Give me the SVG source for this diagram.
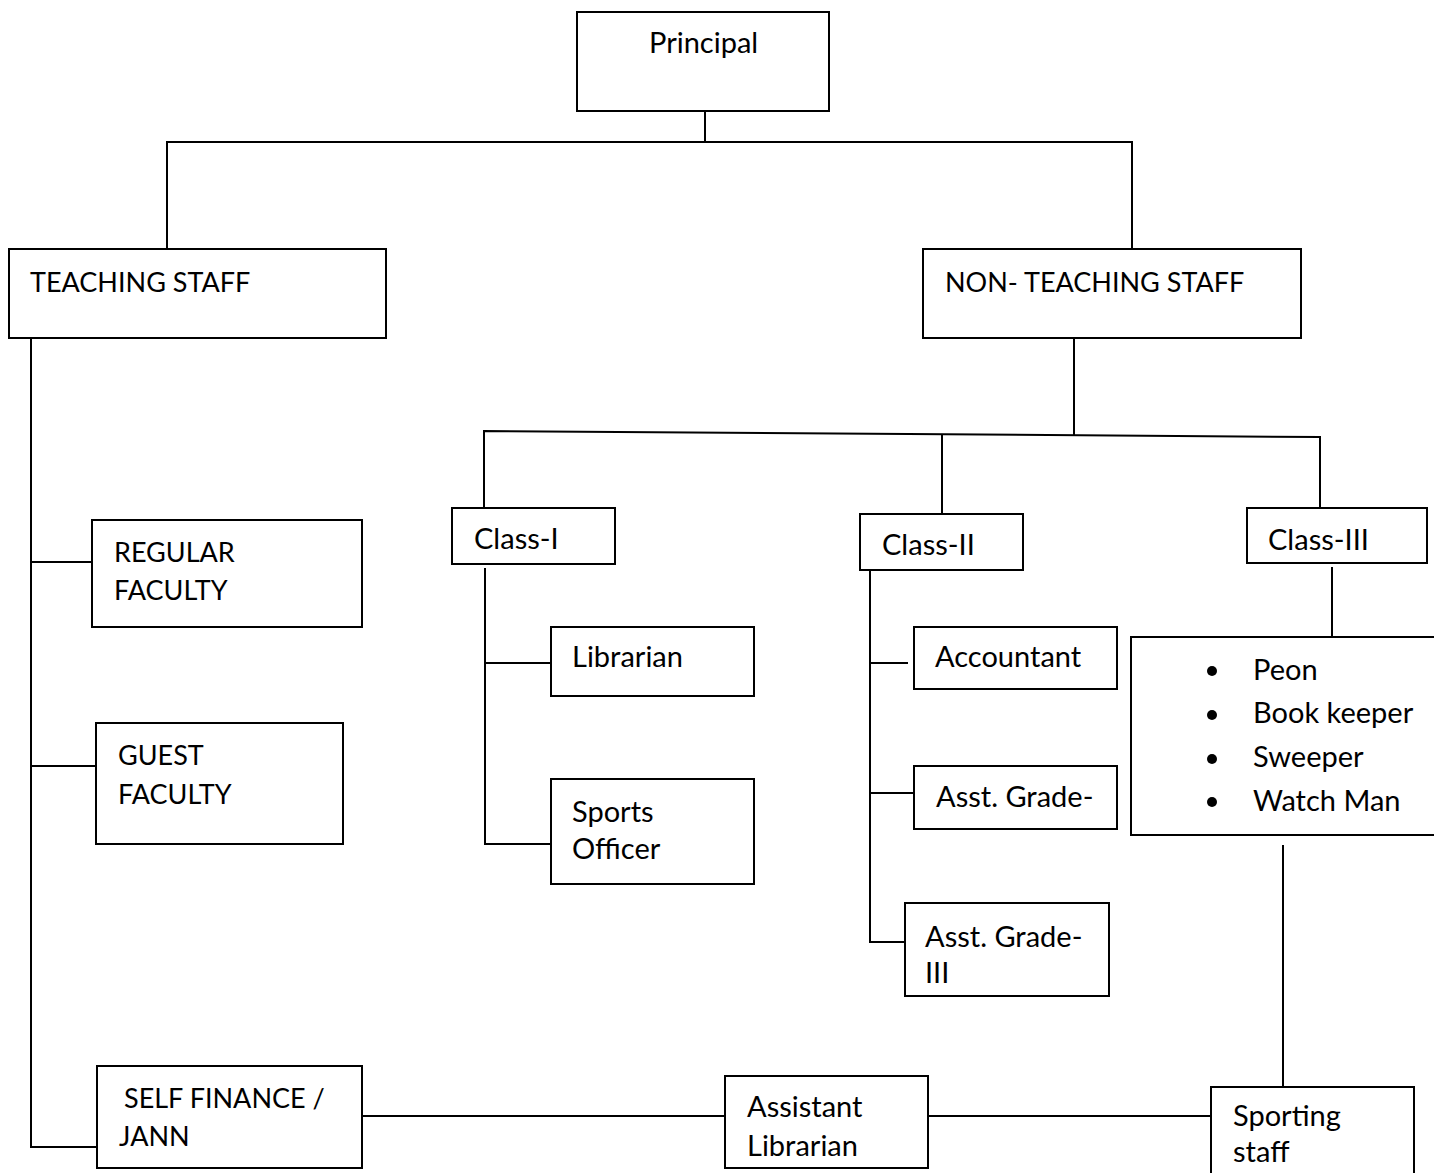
<svg xmlns="http://www.w3.org/2000/svg" width="1434" height="1173" viewBox="0 0 1434 1173">
<style>
  .box { fill: #ffffff; stroke: #000000; stroke-width: 2; }
  .ln { fill: none; stroke: #000000; stroke-width: 2; }
  text { font-family: Lato, "Open Sans", "Liberation Sans", sans-serif; font-size: 29px; fill: #000000; }
  text.caps { font-size: 27px; }
  .dot { fill: #000000; }
</style>
<rect width="1434" height="1173" fill="#ffffff"/>
<g id="connectors">
  <polyline class="ln" points="705,111 705,142"/>
  <polyline class="ln" points="167,249 167,142 1132,142 1132,249"/>
  <polyline class="ln" points="31,338 31,1147 97,1147"/>
  <line class="ln" x1="31" y1="562" x2="92" y2="562"/>
  <line class="ln" x1="31" y1="766" x2="96" y2="766"/>
  <line class="ln" x1="1074" y1="338" x2="1074" y2="435"/>
  <polyline class="ln" points="484,508 484,431 1320,437 1320,508"/>
  <line class="ln" x1="942" y1="434" x2="942" y2="514"/>
  <polyline class="ln" points="485,568 485,844 551,844"/>
  <line class="ln" x1="485" y1="663" x2="551" y2="663"/>
  <polyline class="ln" points="870,570 870,942 905,942"/>
  <line class="ln" x1="870" y1="663" x2="908" y2="663"/>
  <line class="ln" x1="870" y1="793" x2="914" y2="793"/>
  <line class="ln" x1="1332" y1="567" x2="1332" y2="637"/>
  <line class="ln" x1="1283" y1="845" x2="1283" y2="1087"/>
  <line class="ln" x1="362" y1="1116" x2="725" y2="1116"/>
  <line class="ln" x1="928" y1="1116" x2="1211" y2="1116"/>
</g>
<g id="principal">
  <rect class="box" x="577" y="12" width="252" height="99"/>
  <text x="649" y="53">Principal</text>
</g>
<g id="teaching-staff">
  <rect class="box" x="9" y="249" width="377" height="89"/>
  <text class="caps" x="30" y="292">TEACHING STAFF</text>
</g>
<g id="non-teaching-staff">
  <rect class="box" x="923" y="249" width="378" height="89"/>
  <text class="caps" x="945" y="292">NON- TEACHING STAFF</text>
</g>
<g id="regular-faculty">
  <rect class="box" x="92" y="520" width="270" height="107"/>
  <text class="caps" x="114" y="562">REGULAR</text>
  <text class="caps" x="114" y="600">FACULTY</text>
</g>
<g id="guest-faculty">
  <rect class="box" x="96" y="723" width="247" height="121"/>
  <text class="caps" x="118" y="765">GUEST</text>
  <text class="caps" x="118" y="804">FACULTY</text>
</g>
<g id="self-finance">
  <rect class="box" x="97" y="1066" width="265" height="102"/>
  <text class="caps" x="124" y="1108">SELF FINANCE /</text>
  <text class="caps" x="119" y="1146">JANN</text>
</g>
<g id="class-i">
  <rect class="box" x="452" y="508" width="163" height="56"/>
  <text x="474" y="549">Class-I</text>
</g>
<g id="class-ii">
  <rect class="box" x="860" y="514" width="163" height="56"/>
  <text x="882" y="555">Class-II</text>
</g>
<g id="class-iii">
  <rect class="box" x="1247" y="508" width="180" height="55"/>
  <text x="1268" y="550">Class-III</text>
</g>
<g id="librarian">
  <rect class="box" x="551" y="627" width="203" height="69"/>
  <text x="572" y="667">Librarian</text>
</g>
<g id="sports-officer">
  <rect class="box" x="551" y="779" width="203" height="105"/>
  <text x="572" y="822">Sports</text>
  <text x="572" y="859">Officer</text>
</g>
<g id="accountant">
  <rect class="box" x="914" y="627" width="203" height="62"/>
  <text x="935" y="667">Accountant</text>
</g>
<g id="asst-grade">
  <rect class="box" x="914" y="766" width="203" height="63"/>
  <text x="936" y="807">Asst. Grade-</text>
</g>
<g id="asst-grade-iii">
  <rect class="box" x="905" y="903" width="204" height="93"/>
  <text x="925" y="947">Asst. Grade-</text>
  <text x="925" y="983">III</text>
</g>
<g id="class-iii-list">
  <rect class="box" x="1131" y="637" width="310" height="198"/>
  <circle class="dot" cx="1212" cy="671" r="5"/>
  <circle class="dot" cx="1212" cy="715" r="5"/>
  <circle class="dot" cx="1212" cy="759" r="5"/>
  <circle class="dot" cx="1212" cy="802" r="5"/>
  <text x="1253" y="680">Peon</text>
  <text x="1253" y="723">Book keeper</text>
  <text x="1253" y="767">Sweeper</text>
  <text x="1253" y="811">Watch Man</text>
</g>
<g id="assistant-librarian">
  <rect class="box" x="725" y="1076" width="203" height="92"/>
  <text x="747" y="1117">Assistant</text>
  <text x="747" y="1156">Librarian</text>
</g>
<g id="sporting-staff">
  <rect class="box" x="1211" y="1087" width="203" height="100"/>
  <text x="1233" y="1126">Sporting</text>
  <text x="1233" y="1162">staff</text>
</g>
</svg>
